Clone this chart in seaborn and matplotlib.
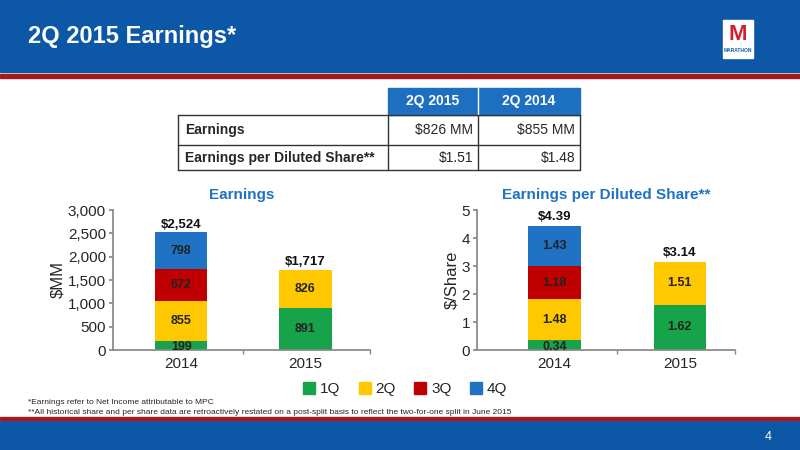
import numpy as np
import pandas as pd
import matplotlib
matplotlib.use("Agg")
import matplotlib.pyplot as plt
import seaborn as sns
from matplotlib.patches import Rectangle
from matplotlib.lines import Line2D

years = ["2014", "2015"]
quarters = ["1Q", "2Q", "3Q", "4Q"]
earn = {"1Q": [199, 891], "2Q": [855, 826], "3Q": [672, 0], "4Q": [798, 0]}
earn_tot = ["$2,524", "$1,717"]
eps = {"1Q": [0.34, 1.62], "2Q": [1.48, 1.51], "3Q": [1.18, 0], "4Q": [1.43, 0]}
eps_tot = ["$4.39", "$3.14"]
colors = ["#17A34A", "#FFC800", "#C00000", "#1F72C4"]
table_cols = ["2Q 2015", "2Q 2014"]
table_rows = ["Earnings", "Earnings per Diluted Share**"]
table_vals = [["$826 MM", "$855 MM"], ["$1.51", "$1.48"]]

sns.set_theme(style="white")
plt.rcParams['font.family'] = ['Liberation Sans', 'DejaVu Sans']

fig = plt.figure(figsize=(8, 4.5), dpi=100)
W, H = 800, 450
def fx(x): return x / W
def fy(y): return 1 - y / H

# header and footer bands
fig.patches.append(Rectangle((0, fy(72)), 1, 72 / H, transform=fig.transFigure, color="#0D58A6", zorder=0))
fig.patches.append(Rectangle((0, fy(78)), 1, 4 / H, transform=fig.transFigure, color="#A31B1F", zorder=0))
fig.patches.append(Rectangle((0, fy(450)), 1, 29 / H, transform=fig.transFigure, color="#0D58A6", zorder=0))
fig.patches.append(Rectangle((0, fy(420)), 1, 3 / H, transform=fig.transFigure, color="#A31B1F", zorder=0))
fig.text(fx(28), fy(37), "2Q 2015 Earnings*", color="white", fontsize=17, fontweight="bold", va="center")
fig.text(fx(765), fy(437), "4", color="white", fontsize=9, va="center")
# logo
fig.patches.append(Rectangle((fx(723), fy(58)), 30 / W, 38 / H, transform=fig.transFigure, color="white", zorder=1))
fig.text(fx(738), fy(35), "M", color="#D0202E", fontsize=16, fontweight="bold", ha="center", va="center", zorder=2)
fig.text(fx(738), fy(51), "MARATHON", color="#0D58A6", fontsize=3.5, fontweight="bold", ha="center", va="center", zorder=2)

# table
x0, xa, xb, x1 = 178, 388, 478, 580
y0, ya, yb, y1 = 88, 115, 145, 170
fig.patches.append(Rectangle((fx(xa), fy(ya)), (x1 - xa) / W, (ya - y0) / H, transform=fig.transFigure, color="#1D6FC1", zorder=1))
fig.lines.append(Line2D([fx(xb)] * 2, [fy(y0), fy(ya)], transform=fig.transFigure, color="white", lw=1))
for (xs, ys) in [([x0, x1], [ya, ya]), ([x0, x1], [yb, yb]), ([x0, x1], [y1, y1]),
                 ([x0, x0], [ya, y1]), ([xa, xa], [ya, y1]), ([xb, xb], [ya, y1]), ([x1, x1], [ya, y1])]:
    fig.lines.append(Line2D([fx(v) for v in xs], [fy(v) for v in ys], transform=fig.transFigure, color="#333333", lw=1))
for i, c in enumerate(table_cols):
    fig.text(fx([433, 529][i]), fy(101), c, color="white", fontsize=10, fontweight="bold", ha="center", va="center")
for r, (lab, vals) in enumerate(zip(table_rows, table_vals)):
    yc = [130, 158][r]
    fig.text(fx(185), fy(yc), lab, fontsize=10, fontweight="bold", va="center")
    fig.text(fx(473), fy(yc), vals[0], fontsize=10, ha="right", va="center")
    fig.text(fx(575), fy(yc), vals[1], fontsize=10, ha="right", va="center")

def stacked(ax, data, totals, ymax, yticks, fmt, title, ylabel, tot_off):
    df = pd.DataFrame({"year": years, **data})
    cum = df[quarters].cumsum(axis=1)
    for q, col in reversed(list(zip(quarters, colors))):
        sns.barplot(x=df["year"], y=cum[q], color=col, width=0.42, ax=ax, saturation=1, linewidth=0)
    for i in range(len(years)):
        bottom = 0
        for q in quarters:
            v = data[q][i]
            if v > 0:
                yv = bottom + v / 2 if v > ymax * 0.1 else bottom + v * 0.35
                ax.text(i, yv, fmt(v), ha="center", va="center", fontsize=9, fontweight="bold", color="#222222")
            bottom += v
        ax.text(i, bottom + tot_off, totals[i], ha="center", va="bottom", fontsize=9.5, fontweight="bold", color="#111111")
    ax.set_ylim(0, ymax)
    ax.set_yticks(yticks)
    ax.set_xlabel("")
    ax.set_ylabel(ylabel, fontsize=12, labelpad=2)
    ax.set_title(title, color="#1F72C4", fontsize=11, fontweight="bold", pad=8)
    for s in ["top", "right"]:
        ax.spines[s].set_visible(False)
    ax.spines["left"].set_color("#888888")
    ax.spines["bottom"].set_color("#888888")
    ax.tick_params(axis="both", labelsize=11, length=3, color="#888888", left=True, bottom=False, pad=2)

ax1 = fig.add_axes([fx(113), fy(350), (370 - 113) / W, 140 / H])
stacked(ax1, earn, earn_tot, 3000, [0, 500, 1000, 1500, 2000, 2500, 3000],
        lambda v: f"{v:,.0f}", "Earnings", "$MM", 30)
ax1.yaxis.set_major_formatter(matplotlib.ticker.FuncFormatter(lambda v, p: f"{v:,.0f}"))
ax1.set_xlim(-0.55, 1.52)
ax1.set_xticks([0, 1], years)
ax1.set_xticks([0.5, 1.52], minor=True)
ax1.tick_params(axis="x", which="minor", length=3, bottom=True, color="#888888")

ax2 = fig.add_axes([fx(477), fy(350), (735 - 477) / W, 140 / H])
stacked(ax2, eps, eps_tot, 5, [0, 1, 2, 3, 4, 5], lambda v: f"{v:.2f}",
        "Earnings per Diluted Share**", "$/Share", 0.12)
ax2.set_xlim(-0.62, 1.44)
ax2.set_xticks([0, 1], years)
ax2.set_xticks([0.5, 1.44], minor=True)
ax2.tick_params(axis="x", which="minor", length=3, bottom=True, color="#888888")

handles = [Rectangle((0, 0), 1, 1, color=c) for c in colors]
fig.legend(handles, quarters, loc="center", bbox_to_anchor=(fx(405), fy(389)), ncol=4, frameon=False,
           fontsize=11, handlelength=0.8, handleheight=0.8, columnspacing=1.2, handletextpad=0.3)
fig.text(fx(28), fy(402), "*Earnings refer to Net Income attributable to MPC", fontsize=6, va="center")
fig.text(fx(28), fy(412), "**All historical share and per share data are retroactively restated on a post-split basis to reflect the two-for-one split in June 2015", fontsize=6, va="center")

fig.savefig("out.png", dpi=100)
